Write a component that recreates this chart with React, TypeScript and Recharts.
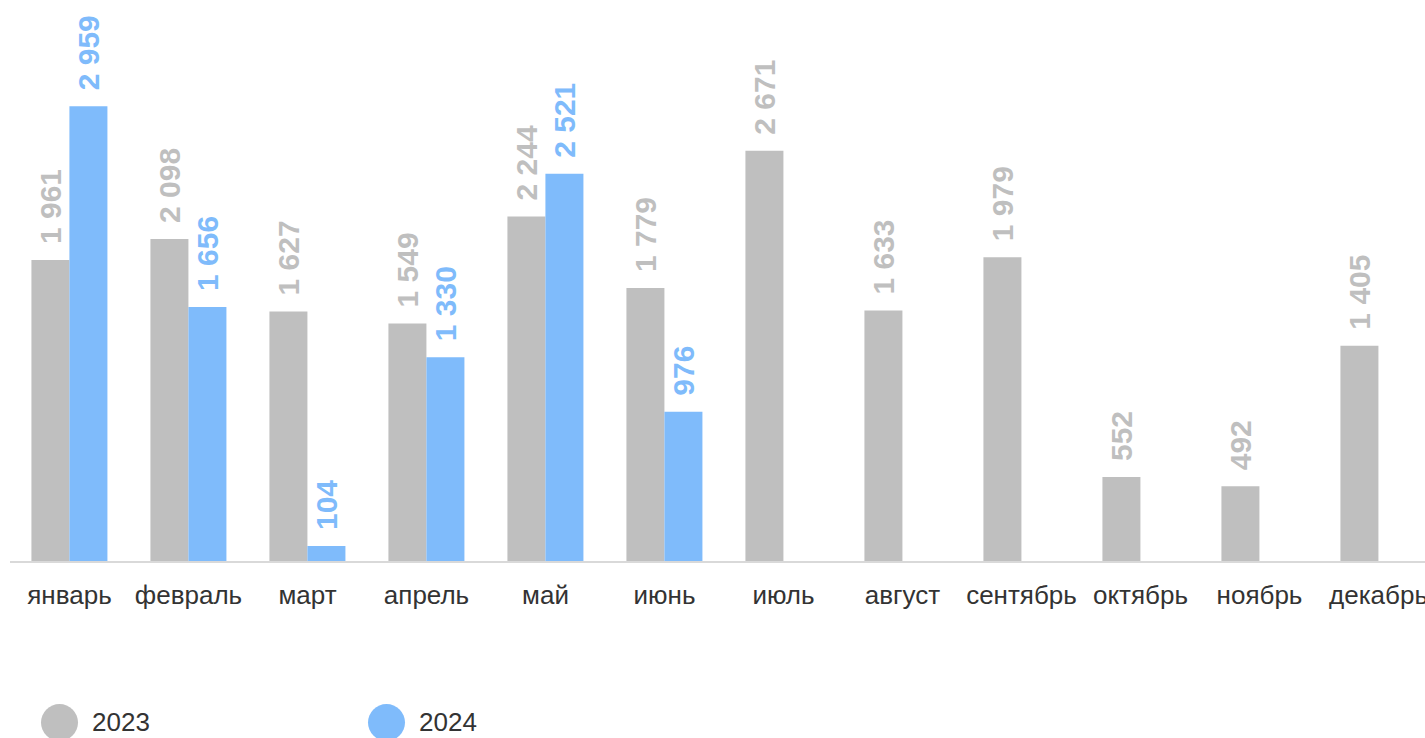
import { BarChart, Bar, XAxis, YAxis, Legend, LabelList } from 'recharts'

const months = ['январь', 'февраль', 'март', 'апрель', 'май', 'июнь', 'июль', 'август', 'сентябрь', 'октябрь', 'ноябрь', 'декабрь']
const values2023 = [1961, 2098, 1627, 1549, 2244, 1779, 2671, 1633, 1979, 552, 492, 1405]
const values2024: (number | null)[] = [2959, 1656, 104, 1330, 2521, 976, null, null, null, null, null, null]
const seriesNames = ['2023', '2024']

const GRAY = '#bfbfbf'
const BLUE = '#7fbbfb'
const FONT = '"Liberation Sans", Arial, sans-serif'

const data = months.map((m, i) => ({ month: m, y2023: values2023[i], y2024: values2024[i] }))

const fmt = (v: number) => String(v).replace(/\B(?=(\d{3})+(?!\d))/g, ' ')

const makeLabel = (color: string) => (props: any) => {
  const { x, y, width, value } = props
  if (value == null) return null
  const cx = Number(x) + Number(width) / 2
  const ty = Number(y) - 16
  return (
    <text
      x={cx}
      y={ty}
      transform={`rotate(-90 ${cx} ${ty})`}
      textAnchor="start"
      dominantBaseline="central"
      fontSize={30}
      fontWeight="bold"
      fontFamily={FONT}
      fill={color}
    >
      {fmt(Number(value))}
    </text>
  )
}

const LegendContent = () => (
  <div style={{ display: 'flex', height: 50, alignItems: 'center', paddingLeft: 31, fontFamily: FONT }}>
    {seriesNames.map((name, i) => (
      <div key={name} style={{ display: 'flex', alignItems: 'center', width: 327 }}>
        <span style={{ display: 'inline-block', width: 37, height: 37, borderRadius: '50%', background: i === 0 ? GRAY : BLUE }} />
        <span style={{ marginLeft: 14, fontSize: 26, color: '#333' }}>{name}</span>
      </div>
    ))}
  </div>
)

export default function App() {
  return (
    <div style={{ position: 'fixed', left: 0, top: 0, width: 1425, height: 738, overflow: 'hidden', background: '#fff', fontFamily: FONT }}>
      <div style={{ position: 'absolute', left: 8, top: 8 }}>
        <BarChart
          width={1432}
          height={739}
          data={data}
          margin={{ top: 15, right: 2, left: 2, bottom: 0 }}
          barCategoryGap="18%"
          barGap={0}
        >
          <XAxis
            dataKey="month"
            height={135}
            tickLine={false}
            tickSize={0}
            tickMargin={24}
            interval={0}
            axisLine={{ stroke: '#d9d9d9', strokeWidth: 2 }}
            tick={{ fill: '#333333', fontSize: 26, fontFamily: FONT }}
          />
          <YAxis hide domain={[0, 3500]} />
          <Legend verticalAlign="bottom" height={50} wrapperStyle={{ height: 50 }} content={LegendContent} />
          <Bar dataKey="y2023" name="2023" fill={GRAY} isAnimationActive={false}>
            <LabelList dataKey="y2023" content={makeLabel(GRAY)} />
          </Bar>
          <Bar dataKey="y2024" name="2024" fill={BLUE} isAnimationActive={false}>
            <LabelList dataKey="y2024" content={makeLabel(BLUE)} />
          </Bar>
        </BarChart>
      </div>
    </div>
  )
}
